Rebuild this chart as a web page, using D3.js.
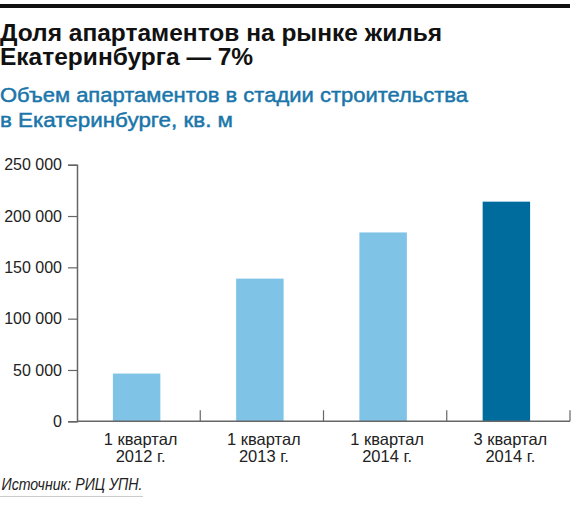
<!DOCTYPE html>
<html>
<head>
<meta charset="utf-8">
<script src="https://cdn.jsdelivr.net/npm/d3@7"></script>
<style>
  body { margin: 0; background: #fff; }
  svg text { font-family: "Liberation Sans", Arial, sans-serif; }
</style>
</head>
<body>
<div id="chart"></div>
<script>
let w = 575;
let h = 506;

// data
let quarters = ["1 квартал", "1 квартал", "1 квартал", "3 квартал"];
let years = ["2012 г.", "2013 г.", "2014 г.", "2014 г."];
let volumes = [46500, 139000, 184000, 214000];
let barColors = ["#7fc3e6", "#7fc3e6", "#7fc3e6", "#006c9e"];
let yTicks = [0, 50000, 100000, 150000, 200000, 250000];

let titleLines = ["Доля апартаментов на рынке жилья", "Екатеринбурга — 7%"];
let subtitleLines = ["Объем апартаментов в стадии строительства", "в Екатеринбурге, кв. м"];
let source = "Источник: РИЦ УПН.";

let ids = quarters.map(function(d, i){ return i; });

let viz = d3.select("#chart")
  .append("svg")
    .attr("width", w)
    .attr("height", h);

// black rule on top
viz.append("rect")
  .attr("x", 0)
  .attr("y", 4)
  .attr("width", 570)
  .attr("height", 4)
  .attr("fill", "#111");

// title
viz.append("g").selectAll("text").data(titleLines)
  .enter()
    .append("text")
    .attr("x", 0)
    .attr("y", function(d, i){ return 40.5 + i * 24.5; })
    .attr("font-size", 24.5)
    .attr("font-weight", "bold")
    .attr("fill", "#111")
    .text(function(d){ return d; });

// subtitle (the original face is wider than Arial, so stretch it)
let subWidths = [468, 233];
viz.append("g").selectAll("text").data(subtitleLines)
  .enter()
    .append("text")
    .attr("x", 0)
    .attr("y", function(d, i){ return 101.5 + i * 25.5; })
    .attr("font-size", 19.5)
    .attr("fill", "#1a76aa")
    .attr("stroke", "#1a76aa")
    .attr("stroke-width", 0.45)
    .attr("textLength", function(d, i){ return subWidths[i]; })
    .attr("lengthAdjust", "spacingAndGlyphs")
    .text(function(d){ return d; });

///////////////////////////////////////////////////////////////////////
// scales

let plotLeft = 77, plotRight = 570, plotTop = 164.7, plotBottom = 421.3;

let x = d3.scaleBand()
  .domain(ids)
  .range([plotLeft, plotRight])
  .paddingInner(0.615)
  .paddingOuter(0.3075);

let y = d3.scaleLinear()
  .domain([0, 250000])
  .range([plotBottom, plotTop]);

let ru = d3.formatLocale({ decimal: ",", thousands: " ", grouping: [3], currency: ["", ""] });
let fmt = ru.format(",d");

///////////////////////////////////////////////////////////////////////
// bars

viz.append("g").selectAll("rect").data(volumes)
  .enter()
    .append("rect")
    .attr("x", function(d, i){ return x(i) - 2; })
    .attr("y", function(d){ return y(d); })
    .attr("width", x.bandwidth())
    .attr("height", function(d){ return y(0) - y(d); })
    .attr("fill", function(d, i){ return barColors[i]; });

///////////////////////////////////////////////////////////////////////
// y axis

let yAxis = d3.axisLeft(y)
  .tickValues(yTicks)
  .tickSize(9)
  .tickPadding(6)
  .tickFormat(fmt);

let yg = viz.append("g")
  .attr("transform", "translate(" + plotLeft + ",0)")
  .call(yAxis);

yg.select(".domain").attr("stroke", "#666").attr("stroke-width", 1.5);
yg.selectAll(".tick line").attr("stroke", "#666").attr("stroke-width", 1.2);
yg.selectAll(".tick text")
  .attr("font-size", 16)
  .attr("fill", "#222")
  .attr("font-family", "Liberation Sans, Arial, sans-serif");

///////////////////////////////////////////////////////////////////////
// x axis: baseline with separators between categories

let step = x.step();
let seps = ids.map(function(i){ return x(i) - step * x.paddingInner() / 2 + step; });

viz.append("line")
  .attr("x1", plotLeft)
  .attr("x2", plotRight)
  .attr("y1", plotBottom)
  .attr("y2", plotBottom)
  .attr("stroke", "#666")
  .attr("stroke-width", 1.5);

viz.append("g").selectAll("line").data(seps)
  .enter()
    .append("line")
    .attr("x1", function(d){ return d; })
    .attr("x2", function(d){ return d; })
    .attr("y1", plotBottom)
    .attr("y2", plotBottom - 11)
    .attr("stroke", "#666")
    .attr("stroke-width", 1.2);

let labels = viz.append("g").selectAll("text").data(ids)
  .enter()
    .append("text")
    .attr("text-anchor", "middle")
    .attr("font-size", 16.5)
    .attr("fill", "#222");

labels.append("tspan")
  .attr("x", function(i){ return x(i) + x.bandwidth() / 2 + 2; })
  .attr("y", 445)
  .text(function(i){ return quarters[i]; });

labels.append("tspan")
  .attr("x", function(i){ return x(i) + x.bandwidth() / 2 + 2; })
  .attr("y", 462)
  .text(function(i){ return years[i]; });

///////////////////////////////////////////////////////////////////////
// source

viz.append("text")
  .attr("x", 1.5)
  .attr("y", 490)
  .attr("font-size", 16.5)
  .attr("font-style", "italic")
  .attr("fill", "#222")
  .attr("textLength", 141)
  .attr("lengthAdjust", "spacingAndGlyphs")
  .text(source);

viz.append("line")
  .attr("x1", 0)
  .attr("x2", 143)
  .attr("y1", 496.5)
  .attr("y2", 496.5)
  .attr("stroke", "#ccc")
  .attr("stroke-width", 1);
</script>
</body>
</html>
